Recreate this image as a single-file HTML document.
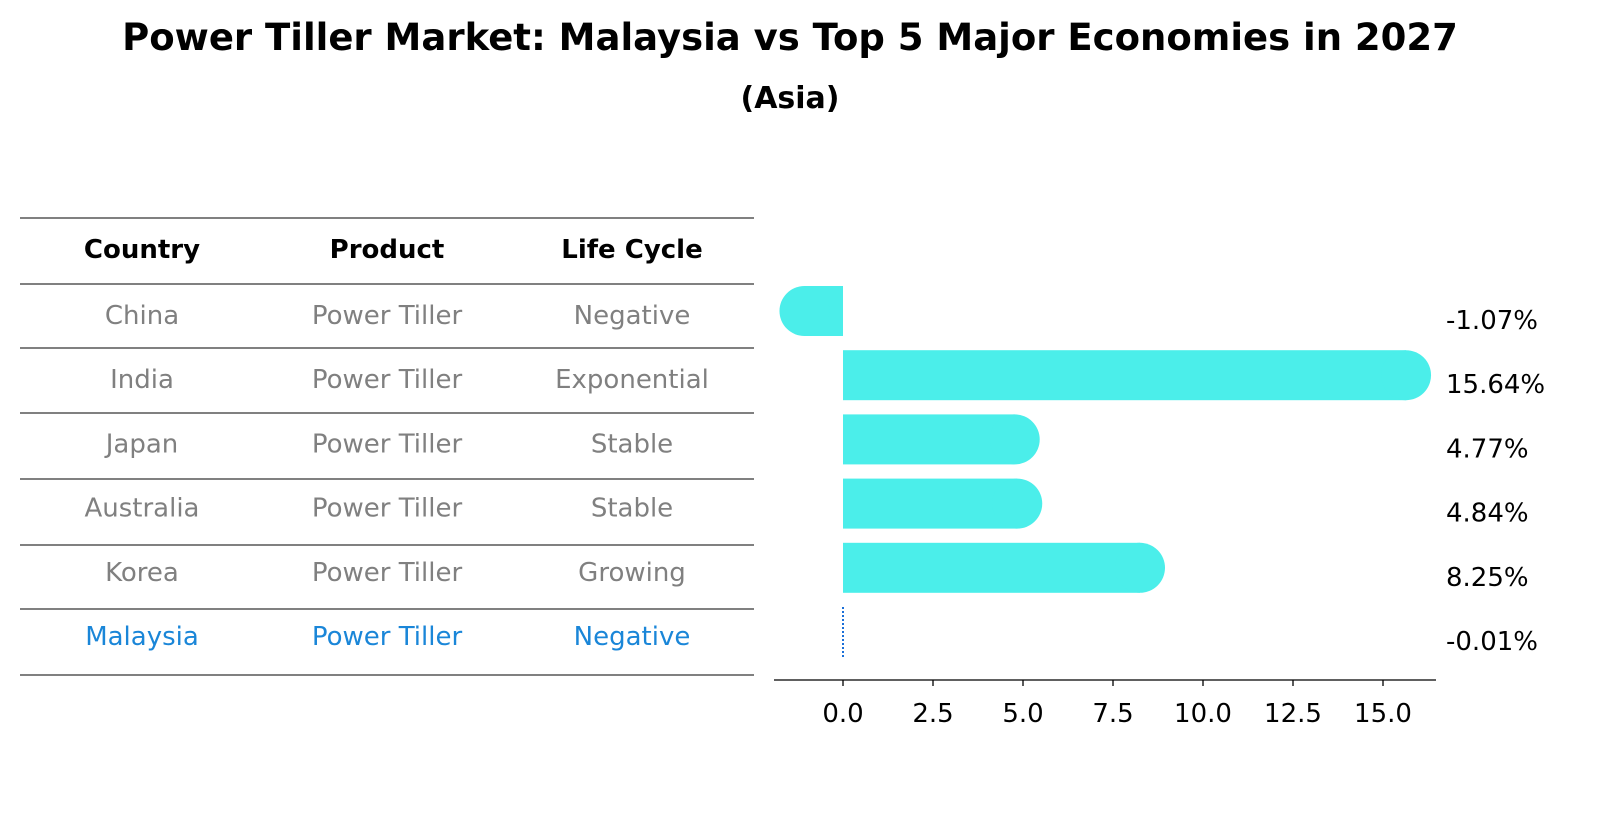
<!DOCTYPE html>
<html><head><meta charset="utf-8"><style>
body{margin:0;background:#fff;width:1604px;height:823px;overflow:hidden}
svg text{font-family:"DejaVu Sans","Liberation Sans",sans-serif}
</style></head><body>
<svg width="1604" height="823" xmlns="http://www.w3.org/2000/svg">
<text x="790" y="50" text-anchor="middle" font-size="37" font-weight="bold">Power Tiller Market: Malaysia vs Top 5 Major Economies in 2027</text>
<text x="790" y="108" text-anchor="middle" font-size="30" font-weight="bold">(Asia)</text>
<g id="table"></g>
<g id="bars"></g>
<g id="axis"></g>
</svg>
<script>
const countries=["China","India","Japan","Australia","Korea","Malaysia"];
const products=["Power Tiller","Power Tiller","Power Tiller","Power Tiller","Power Tiller","Power Tiller"];
const lifeCycles=["Negative","Exponential","Stable","Stable","Growing","Negative"];
const growth=[-1.07,15.64,4.77,4.84,8.25,-0.01];
const valueLabels=["-1.07%","15.64%","4.77%","4.84%","8.25%","-0.01%"];
const ticks=[0,2.5,5,7.5,10,12.5,15];
const tickLabels=["0.0","2.5","5.0","7.5","10.0","12.5","15.0"];
const NS="http://www.w3.org/2000/svg";
function mk(t,a,p){const e=document.createElementNS(NS,t);for(const k in a)e.setAttribute(k,a[k]);p.appendChild(e);return e;}
const x=v=>843+v*36;
const rowY=i=>318+i*64.2;
const tb=document.getElementById('table');
const lines=[218,284,348,413,479,545,609,675];
lines.forEach(y=>{const l=mk('line',{x1:20,x2:754,y1:y,y2:y,stroke:'#000','stroke-width':1},tb);

});
const cols=[142,387,632];
["Country","Product","Life Cycle"].forEach((h,j)=>{const t=mk('text',{x:cols[j],y:258,'text-anchor':'middle','font-size':26,'font-weight':'bold'},tb);t.textContent=h;

});
countries.forEach((c,i)=>{const col=i===countries.length-1?'#1a86d8':'#808080';
[c,products[i],lifeCycles[i]].forEach((s,j)=>{const t=mk('text',{x:cols[j],y:rowY(i)+6,'text-anchor':'middle','font-size':26,fill:col},tb);t.textContent=s;

});});
const bg=document.getElementById('bars');const h=50,r=25;
growth.forEach((v,i)=>{const cy=rowY(i)-7;
if(Math.abs(v)<0.05){const l=mk('line',{x1:x(0),x2:x(0),y1:cy-25,y2:cy+25,stroke:'#1a6fd8','stroke-width':2,'stroke-dasharray':'2,2'},bg);

}
else{const g=mk('g',{},bg);


const x0=Math.min(x(0),x(v)),w=Math.abs(x(v)-x(0));
mk('rect',{x:x0,y:cy-h/2,width:w,height:h,fill:'#4beeea'},g);
mk('circle',{cx:x(v),cy:cy,r:r,fill:'#4beeea'},g);}
const t=mk('text',{x:1446,y:cy+18,'font-size':26},bg);t.textContent=valueLabels[i];

});
const ax=document.getElementById('axis');
mk('line',{x1:774,x2:1436,y1:680,y2:680,stroke:'#000','stroke-width':1.3},ax);
ticks.forEach((v,i)=>{mk('line',{x1:x(v),x2:x(v),y1:680,y2:686,stroke:'#000','stroke-width':1.3},ax);
const t=mk('text',{x:x(v),y:722,'text-anchor':'middle','font-size':26},ax);t.textContent=tickLabels[i];

});
</script>
</body></html>
